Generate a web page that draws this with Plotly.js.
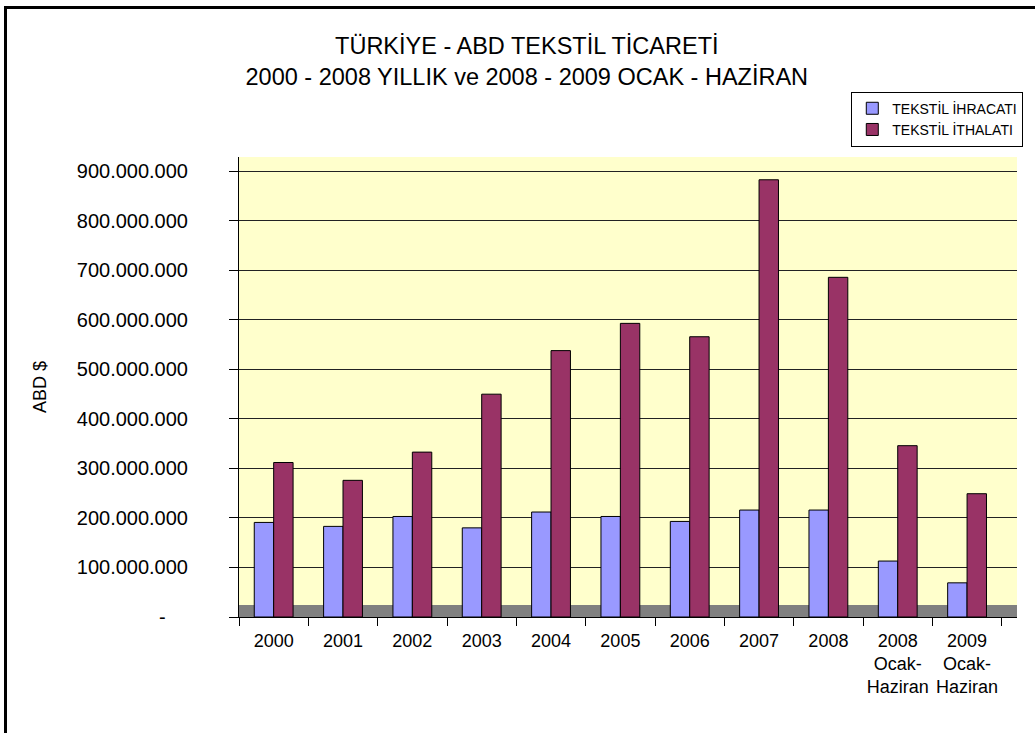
<!DOCTYPE html>
<html>
<head>
<meta charset="utf-8">
<script src="https://cdn.plot.ly/plotly-3.0.1.min.js"></script>
<style>
  html, body { margin: 0; padding: 0; background: #fff; overflow: hidden; }
  #chart { width: 1035px; height: 733px; }
  #frame { position: absolute; left: 4px; top: 6px; width: 2000px; height: 2000px;
           border-left: 3px solid #000; border-top: 3px solid #000; pointer-events: none; }
</style>
</head>
<body>
<div id="chart"></div>
<div id="frame"></div>
<script>
// Categories (x axis tick labels)
const categories = ["2000", "2001", "2002", "2003", "2004", "2005", "2006", "2007", "2008",
                    "2008<br>Ocak-<br>Haziran", "2009<br>Ocak-<br>Haziran"];
// Series values (USD)
const ihracat = [191e6, 183e6, 203e6, 180e6, 212e6, 203e6, 193e6, 216e6, 216e6, 113e6, 69e6];
const ithalat = [312e6, 276e6, 333e6, 450e6, 538e6, 593e6, 566e6, 883e6, 686e6, 346e6, 249e6];
// Y tick values and labels
const yTickVals = [0, 100e6, 200e6, 300e6, 400e6, 500e6, 600e6, 700e6, 800e6, 900e6];
const yTickText = ["-\u00a0\u00a0\u00a0\u00a0", "100.000.000", "200.000.000", "300.000.000", "400.000.000",
                   "500.000.000", "600.000.000", "700.000.000", "800.000.000", "900.000.000"];
const seriesNames = ["TEKSTİL İHRACATI", "TEKSTİL İTHALATI"];

const FONT = "'Liberation Sans', Arial, sans-serif";

const traces = [
  { type: "bar", name: seriesNames[0], x: categories, y: ihracat, legendgroup: "g",
    marker: { color: "#9999FF", line: { color: "#000000", width: 1 } } },
  { type: "bar", name: seriesNames[1], x: categories, y: ithalat, legendgroup: "g",
    marker: { color: "#993366", line: { color: "#000000", width: 1 } } }
];

const layout = {
  width: 1035, height: 733,
  margin: { l: 239, r: 15, t: 157, b: 116 },
  paper_bgcolor: "rgba(0,0,0,0)",
  plot_bgcolor: "#FFFFCC",
  font: { family: FONT, color: "#000000" },
  barmode: "group",
  bargap: 0.44,
  bargroupgap: 0,
  showlegend: true,
  title: {
    text: "TÜRKİYE - ABD TEKSTİL TİCARETİ<br>2000 - 2008 YILLIK ve 2008 - 2009 OCAK - HAZİRAN",
    font: { family: FONT, size: 23.5, color: "#000000" },
    x: 0.509, xanchor: "center", xref: "container",
    y: 0.926, yanchor: "top", yref: "container"
  },
  xaxis: {
    type: "category",
    range: [-0.5, 10.72],
    showline: true, linecolor: "#000000", linewidth: 1,
    ticks: "outside", ticklen: 8, tickcolor: "#000000", tickson: "boundaries",
    ticklabelstandoff: 7,
    showgrid: false, zeroline: false,
    tickfont: { family: FONT, size: 18, color: "#000000" },
    tickangle: 0
  },
  yaxis: {
    range: [0, 929e6],
    tickvals: yTickVals, ticktext: yTickText,
    showline: true, linecolor: "#000000", linewidth: 1,
    ticks: "outside", ticklen: 9, tickcolor: "#000000",
    ticklabelstandoff: 37,
    showgrid: true, gridcolor: "#222222", gridwidth: 1,
    zeroline: false,
    tickfont: { family: FONT, size: 20, color: "#000000" },
    title: { text: "ABD $", font: { family: FONT, size: 18, color: "#000000" }, standoff: 25 }
  },
  legend: {
    x: 0.787, xanchor: "left", y: 1.142, yanchor: "top",
    bgcolor: "#FFFFFF", bordercolor: "#000000", borderwidth: 1,
    font: { family: FONT, size: 14, color: "#000000" },
    tracegroupgap: 0, itemwidth: 30
  },
  shapes: [
    { type: "rect", xref: "paper", yref: "y", x0: 0, x1: 1, y0: 0, y1: 24e6,
      fillcolor: "#808080", line: { width: 0 }, layer: "below" }
  ]
};

Plotly.newPlot("chart", traces, layout, { displayModeBar: false, staticPlot: true });
</script>
</body>
</html>
